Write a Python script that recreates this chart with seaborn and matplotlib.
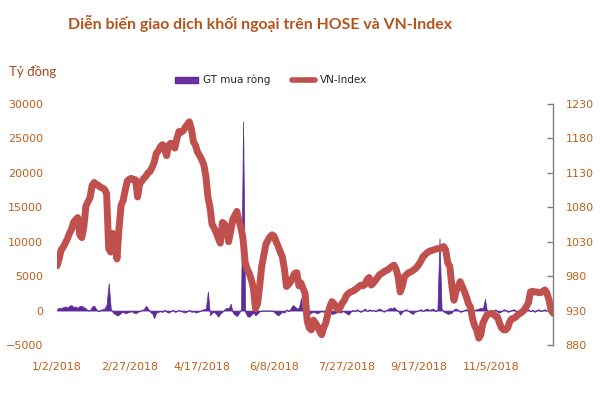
import matplotlib
matplotlib.use("Agg")
import matplotlib.pyplot as plt
from matplotlib.patches import Patch
from matplotlib.lines import Line2D
import seaborn as sns
import numpy as np
import pandas as pd

sns.set_theme(style="white")
plt.rcParams['font.family'] = ['DejaVu Sans']

title = "Diễn biến giao dịch khối ngoại trên HOSE và VN-Index"
unit_label = "Tỷ đồng"
series_names = ["GT mua ròng", "VN-Index"]
tick_dates = ["1/2/2018", "2/27/2018", "4/17/2018", "6/8/2018",
              "7/27/2018", "9/17/2018", "11/5/2018"]
tick_step = 35

vnindex = [
    995, 1005, 1018, 1022, 1028, 1034, 1042, 1048, 1058, 1062,
    1065, 1040, 1036, 1052, 1082, 1088, 1094, 1112, 1116, 1113,
    1112, 1109, 1108, 1106, 1100, 1020, 1015, 1042, 1036, 1005,
    1050, 1083, 1090, 1105, 1118, 1121, 1122, 1120, 1120, 1095,
    1114, 1118, 1122, 1125, 1130, 1132, 1138, 1145, 1158, 1162,
    1168, 1171, 1165, 1155, 1170, 1173, 1172, 1166, 1180, 1190,
    1189, 1191, 1196, 1200, 1204, 1194, 1175, 1170, 1160, 1155,
    1149, 1142, 1125, 1095, 1080, 1055, 1050, 1043, 1035, 1028,
    1058, 1056, 1050, 1030, 1045, 1062, 1068, 1074, 1060, 1050,
    1034, 1000, 990, 984, 975, 962, 933, 940, 965, 994,
    1010, 1026, 1032, 1037, 1040, 1038, 1030, 1023, 1015, 1008,
    990, 965, 968, 972, 978, 984, 985, 966, 970, 962,
    955, 915, 905, 902, 916, 912, 907, 900, 895, 905,
    912, 925, 936, 943, 940, 935, 931, 935, 941, 945,
    952, 955, 957, 958, 960, 962, 965, 967, 966, 968,
    975, 978, 967, 970, 974, 978, 982, 984, 986, 988,
    989, 992, 994, 996, 990, 979, 957, 965, 979, 982,
    985, 986, 988, 990, 993, 997, 1002, 1008, 1011, 1014,
    1016, 1017, 1018, 1019, 1020, 1020, 1021, 1023, 1018, 999,
    994, 965, 945, 958, 965, 972, 965, 958, 950, 940,
    935, 918, 908, 902, 890, 895, 912, 918, 924, 925,
    926, 925, 922, 921, 912, 905, 902, 902, 905, 914,
    918, 919, 921, 924, 926, 928, 931, 936, 941, 957,
    958, 957, 957, 956, 956, 958, 960, 955, 945, 931, 926,
]

netbuy = [
    200, 400, 350, 500, 600, 450, 700, 800, 500, 600,
    400, 700, 650, 500, 300, 0, 100, 600, 700, 200,
    -100, 100, 200, 300, 900, 4000, 300, -300, -500, -700,
    -600, -300, -200, -400, -300, -200, -100, -300, -400, -200,
    -100, 100, 200, 700, 300, -200, -400, -1100, -300, -200,
    -100, -200, 100, -200, -300, -100, 100, -200, -100, 100,
    -100, -200, -300, -100, 100, -200, -100, -300, -200, -100,
    100, 200, 300, 2800, -700, -300, -200, -500, -900, -400,
    -200, 200, 400, 300, 1000, -300, -600, -800, -400, 200,
    27500, -200, -800, -900, -600, -300, -700, -400, -100, 0,
    0, 0, 0, 0, 0, -200, -500, -700, -400, -200,
    -300, 200, -100, 300, 800, 600, 300, 400, 1800, -300,
    -400, -600, -500, -300, -200, -300, -400, -200, -100, -200,
    -100, -200, -300, -500, -400, -300, -200, -300, -100, -200,
    -400, -600, -200, 100, -100, 200, -100, -200, 100, 300,
    -100, 200, 0, 100, -100, 200, 300, 100, -200, 100,
    200, 400, 300, 500, 200, -100, -600, -200, 100, 200,
    -100, -300, -500, -200, -100, 100, 200, -100, 200, 300,
    100, 200, 300, -100, 200, 10500, 300, -200, -300, -500,
    -400, -300, 200, 300, 100, -200, -100, 100, 200, -100,
    -200, -100, 100, 200, 300, 400, 300, 1700, -200, -100,
    100, -100, 200, -200, -300, -100, 200, 100, -200, -100,
    100, 200, -100, -200, 100, 200, -100, 100, 200, -100,
    100, -200, 100, 200, -100, 100, 200, -100, 100, -200, 100,
]

df = pd.DataFrame({"day": np.arange(len(vnindex)), "vn": vnindex, "nb": netbuy})

RED = "#C0504D"
PURPLE = "#5E2B97"
TXT = "#C0601A"
TITLE_C = "#B5531C"

fig = plt.figure(figsize=(6, 4), dpi=100)
ax = fig.add_axes([0.095, 0.1375, 0.827, 0.6025])
ax2 = ax.twinx()

ax.fill_between(df["day"], 0, df["nb"], color=PURPLE, lw=0.5, edgecolor=PURPLE)
sns.lineplot(data=df, x="day", y="vn", ax=ax2, color=RED, linewidth=5.0,
             solid_capstyle="round", solid_joinstyle="round", legend=False)

ax.set_xlim(0, len(vnindex) - 1)
ax.set_ylim(-5000, 30000)
ax.set_yticks(np.arange(-5000, 30001, 5000))
ax2.set_ylim(880, 1230)
ax2.set_yticks(np.arange(880, 1231, 50))
ax.set_xticks(np.arange(len(tick_dates)) * tick_step)
ax.set_xticklabels(tick_dates)
ax.set_xlabel("")
ax.set_ylabel("")
ax2.set_xlabel("")
ax2.set_ylabel("")
ax.grid(False)
ax2.grid(False)

for s in ["left", "top", "bottom", "right"]:
    ax.spines[s].set_visible(False)
for s in ["left", "top", "bottom"]:
    ax2.spines[s].set_visible(False)
ax2.spines["right"].set_visible(True)
ax2.spines["right"].set_color("#808080")
ax2.spines["right"].set_linewidth(1)

ax.tick_params(axis="y", length=0, pad=10, labelsize=8, labelcolor=TXT)
ax.tick_params(axis="x", length=0, pad=12, labelsize=8, labelcolor=TXT)
ax2.tick_params(axis="y", direction="in", length=4, width=1, color="#808080",
                pad=9, labelsize=8, labelcolor=TXT, right=True)

fig.text(0.433, 0.9425, title, ha="center", va="center", fontsize=11.4,
         fontweight="bold", color=TITLE_C, family=["Lato", "DejaVu Sans"])
fig.text(0.015, 0.82, unit_label, ha="left", va="center", fontsize=9.5,
         color="#A8461A", family=["Lato", "DejaVu Sans"])

handles = [Patch(facecolor="#7030A0", edgecolor="#5E2B97"),
           Line2D([0], [0], color=RED, lw=4, solid_capstyle="round")]
fig.legend(handles, series_names, loc="center", bbox_to_anchor=(0.452, 0.80),
           ncol=2, frameon=False, fontsize=7.5, handlelength=2.2,
           handleheight=0.5, columnspacing=2.0, handletextpad=0.5)

fig.savefig("out.png", dpi=100)
